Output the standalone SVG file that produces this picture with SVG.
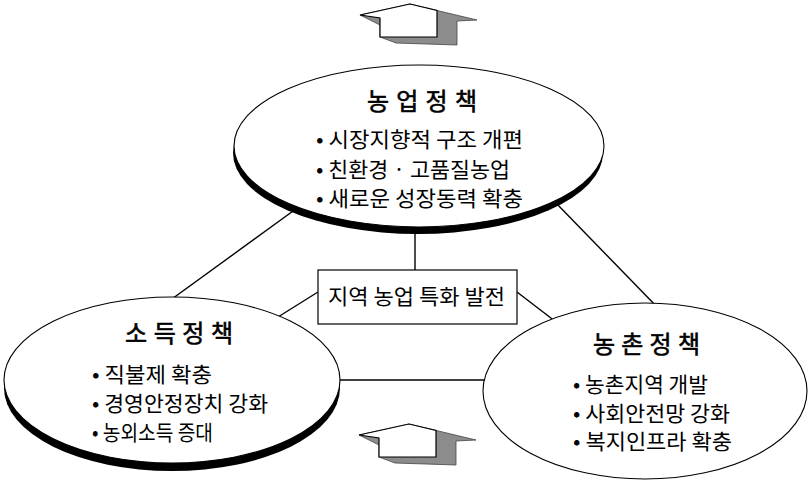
<svg xmlns="http://www.w3.org/2000/svg" xmlns:xlink="http://www.w3.org/1999/xlink" width="812" height="481" viewBox="0 0 812 481">
<style>
.t{font-family:"Noto Sans CJK KR","Noto Sans",sans-serif;fill:#000}
.ti{font-size:24px;font-weight:400;stroke:#000;stroke-width:0.6}
.b{font-size:21px}
.ln{stroke:#000;stroke-width:1.4;fill:none}
.el{fill:#fff;stroke:#000;stroke-width:1.1}
.sh{fill:#000}
</style>
<defs>
<g id="arrow">
<polygon points="360,15 410,4 477,20 457,21 457,45 396,43 380,37 380,25" fill="#8c8c8c" stroke="#444" stroke-width="0.8"/>
<polygon points="360,15 410,4 437,10.5 437,37 380,37 380,18" fill="#fff" stroke="#000" stroke-width="1.2"/>
</g>
</defs>
<rect width="812" height="481" fill="#fff"/>
<g id="connectors">
<line class="ln" x1="300" y1="206" x2="165" y2="304"/>
<line class="ln" x1="555" y1="202" x2="660" y2="310"/>
<line class="ln" x1="415" y1="225" x2="415" y2="270"/>
<line class="ln" x1="318" y1="292" x2="270" y2="322"/>
<line class="ln" x1="517" y1="292" x2="560" y2="325"/>
<line class="ln" x1="330" y1="380" x2="495" y2="380"/>
</g>
<g id="arrow-top"><use xlink:href="#arrow"/></g>
<g id="arrow-bottom"><use xlink:href="#arrow" transform="translate(-1,420)"/></g>
<g id="node-agri">
<ellipse class="sh" cx="418" cy="153" rx="185" ry="81"/>
<ellipse class="el" cx="419" cy="146" rx="185" ry="81"/>
<text class="t ti" x="367" y="110" textLength="110" lengthAdjust="spacing">농업정책</text>
<text class="t b" x="316" y="147" textLength="207" lengthAdjust="spacingAndGlyphs">• 시장지향적 구조 개편</text>
<text class="t b" x="316" y="177" textLength="194" lengthAdjust="spacingAndGlyphs">• 친환경 · 고품질농업</text>
<text class="t b" x="316" y="206" textLength="207" lengthAdjust="spacingAndGlyphs">• 새로운 성장동력 확충</text>
</g>
<g id="node-income">
<ellipse class="sh" cx="172" cy="388" rx="168" ry="83"/>
<ellipse class="el" cx="172" cy="380" rx="168" ry="83"/>
<text class="t ti" x="125" y="342" textLength="108" lengthAdjust="spacing">소득정책</text>
<text class="t b" x="92" y="382" textLength="120" lengthAdjust="spacingAndGlyphs">• 직불제 확충</text>
<text class="t b" x="92" y="411" textLength="176" lengthAdjust="spacingAndGlyphs">• 경영안정장치 강화</text>
<text class="t b" x="92" y="440" textLength="121" lengthAdjust="spacingAndGlyphs">• 농외소득 증대</text>
</g>
<g id="node-rural">
<ellipse class="el" cx="645" cy="391" rx="162" ry="88"/>
<text class="t ti" x="593" y="353" textLength="107" lengthAdjust="spacing">농촌정책</text>
<text class="t b" x="573" y="392" textLength="135" lengthAdjust="spacingAndGlyphs">• 농촌지역 개발</text>
<text class="t b" x="573" y="421" textLength="157" lengthAdjust="spacingAndGlyphs">• 사회안전망 강화</text>
<text class="t b" x="573" y="449" textLength="159" lengthAdjust="spacingAndGlyphs">• 복지인프라 확충</text>
</g>
<g id="node-center">
<rect x="318" y="270" width="199" height="54" fill="#fff" stroke="#000" stroke-width="1.2"/>
<text class="t b" x="328" y="304" textLength="177" lengthAdjust="spacingAndGlyphs">지역 농업 특화 발전</text>
</g>
</svg>
